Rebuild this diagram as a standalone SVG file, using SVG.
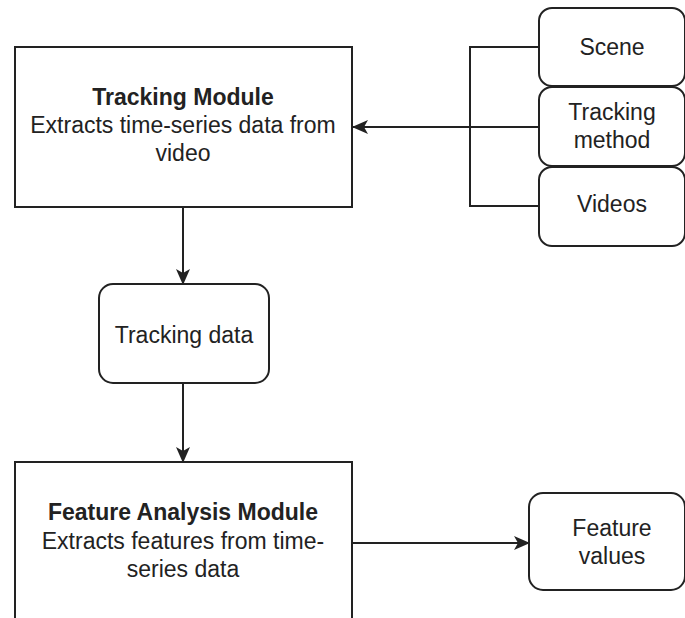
<svg xmlns="http://www.w3.org/2000/svg" width="685" height="618" viewBox="0 0 685 618">
<style>
.box{fill:#fff;stroke:#222;stroke-width:2}
.t{font-family:"Liberation Sans",Arial,sans-serif;font-size:23px;fill:#222;text-anchor:middle}
.b{font-weight:bold}
.c{fill:none;stroke:#222;stroke-width:2}
</style>
<defs>
<marker id="ah" markerWidth="16" markerHeight="14" refX="15" refY="7" orient="auto" markerUnits="userSpaceOnUse" viewBox="0 0 16 14">
<path d="M0,0 L16,7 L0,14 L4,7 Z" fill="#222"/>
</marker>
</defs>
<rect width="685" height="618" fill="#fff"/>
<g id="connectors">
<path class="c" d="M539,47 H470 V206 H539"/>
<path class="c" d="M539,127 H353" marker-end="url(#ah)"/>
<path class="c" d="M183,207 V284" marker-end="url(#ah)"/>
<path class="c" d="M183,383 V462" marker-end="url(#ah)"/>
<path class="c" d="M352,543 H529" marker-end="url(#ah)"/>
</g>
<g id="tracking-module">
<rect class="box" x="15" y="47" width="337" height="160"/>
<text class="t b" x="183" y="105">Tracking Module</text>
<text class="t" x="183" y="133">Extracts time-series data from</text>
<text class="t" x="183" y="161">video</text>
</g>
<g id="scene">
<rect class="box" x="539" y="8" width="146" height="78" rx="13"/>
<text class="t" x="612" y="55">Scene</text>
</g>
<g id="tracking-method">
<rect class="box" x="539" y="87" width="146" height="79" rx="13"/>
<text class="t" x="612" y="120">Tracking</text>
<text class="t" x="612" y="148">method</text>
</g>
<g id="videos">
<rect class="box" x="539" y="167" width="146" height="79" rx="13"/>
<text class="t" x="612" y="212">Videos</text>
</g>
<g id="tracking-data">
<rect class="box" x="99" y="284" width="170" height="99" rx="14"/>
<text class="t" x="184" y="343">Tracking data</text>
</g>
<g id="feature-analysis-module">
<rect class="box" x="15" y="462" width="337" height="170"/>
<text class="t b" x="183" y="520">Feature Analysis Module</text>
<text class="t" x="183" y="549">Extracts features from time-</text>
<text class="t" x="183" y="577">series data</text>
</g>
<g id="feature-values">
<rect class="box" x="529" y="493" width="156" height="97" rx="14"/>
<text class="t" x="612" y="536">Feature</text>
<text class="t" x="612" y="564">values</text>
</g>
</svg>
